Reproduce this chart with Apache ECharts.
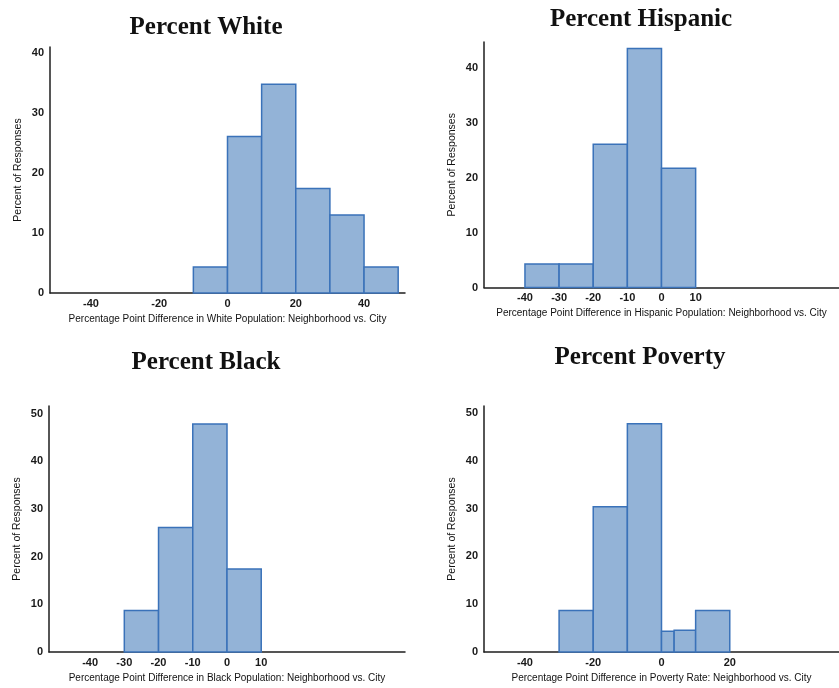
<!DOCTYPE html>
<html>
<head>
<meta charset="utf-8">
<script src="https://cdn.jsdelivr.net/npm/echarts@6/dist/echarts.min.js"></script>
<style>
html,body{margin:0;padding:0;background:#fff;}
#chart{width:839px;height:688px;}
</style>
</head>
<body>
<div id="chart"></div>
<script>
// ---- Data (bin edges and percent of responses per bin) ----
const whiteEdges = [-10, 0, 10, 20, 30, 40, 50];
const whitePct = [4.35, 26.1, 34.8, 17.4, 13.0, 4.35];

const hispanicEdges = [-40, -30, -20, -10, 0, 10];
const hispanicPct = [4.3, 4.3, 26.1, 43.5, 21.7];

const blackEdges = [-30, -20, -10, 0, 10];
const blackPct = [8.7, 26.1, 47.8, 17.4];

const povertyEdges = [-30, -20, -10, 0, 3.7, 10, 20];
const povertyPct = [8.7, 30.4, 47.8, 4.35, 4.55, 8.7];

// tick labels
const whiteXTicks = [-40, -20, 0, 20, 40];
const hispanicXTicks = [-40, -30, -20, -10, 0, 10];
const blackXTicks = [-40, -30, -20, -10, 0, 10];
const povertyXTicks = [-40, -20, 0, 20];
const yTicks40 = [0, 10, 20, 30, 40];
const yTicks50 = [0, 10, 20, 30, 40, 50];

const titles = ['Percent White', 'Percent Hispanic', 'Percent Black', 'Percent Poverty'];
const xNames = [
  'Percentage Point Difference in White Population: Neighborhood vs. City',
  'Percentage Point Difference in Hispanic Population: Neighborhood vs. City',
  'Percentage Point Difference in Black Population: Neighborhood vs. City',
  'Percentage Point Difference in Poverty Rate: Neighborhood vs. City'
];
const yName = 'Percent of Responses';

function toBins(edges, pct) {
  return pct.map((v, i) => [edges[i], edges[i + 1], v]);
}

const panels = [
  { bins: toBins(whiteEdges, whitePct), xt: whiteXTicks, yt: yTicks40, ymax: 41,
    grid: { left: 50, top: 47, width: 355, height: 246 }, title: [206, 28] },
  { bins: toBins(hispanicEdges, hispanicPct), xt: hispanicXTicks, yt: yTicks40, ymax: 44.7,
    grid: { left: 484, top: 42, width: 356, height: 245.5 }, title: [641, 20] },
  { bins: toBins(blackEdges, blackPct), xt: blackXTicks, yt: yTicks50, ymax: 51.6,
    grid: { left: 49, top: 406, width: 356, height: 246 }, title: [206, 363] },
  { bins: toBins(povertyEdges, povertyPct), xt: povertyXTicks, yt: yTicks50, ymax: 51.5,
    grid: { left: 484, top: 406, width: 356, height: 246 }, title: [640, 358] }
];

const FILL = '#93b3d7';
const STROKE = '#3a72b9';
const AXIS = '#1e1e1e';
const SANS = 'Liberation Sans, Arial, sans-serif';

const option = {
  animation: false,
  backgroundColor: '#ffffff',
  grid: panels.map(p => Object.assign({ containLabel: false }, p.grid)),
  xAxis: panels.map((p, i) => ({
    type: 'value', gridIndex: i, min: -52, max: 52,
    name: xNames[i], nameLocation: 'middle', nameGap: 21,
    nameTextStyle: { fontFamily: SANS, fontSize: 10, color: '#111' },
    axisLine: { show: true, onZero: false, lineStyle: { color: AXIS, width: 1.5 } },
    axisTick: { show: false },
    splitLine: { show: false },
    axisLabel: { customValues: p.xt, margin: 5, fontFamily: SANS, fontSize: 11, fontWeight: 'bold', color: '#1a1a1a' }
  })),
  yAxis: panels.map((p, i) => ({
    type: 'value', gridIndex: i, min: 0, max: p.ymax,
    name: yName, nameLocation: 'middle', nameGap: 26, nameRotate: 90,
    nameTextStyle: { fontFamily: SANS, fontSize: 10.5, color: '#111' },
    axisLine: { show: true, onZero: false, lineStyle: { color: AXIS, width: 1.5 } },
    axisTick: { show: false },
    splitLine: { show: false },
    axisLabel: { customValues: p.yt, margin: 6, fontFamily: SANS, fontSize: 11, fontWeight: 'bold', color: '#1a1a1a' }
  })),
  series: panels.map((p, i) => ({
    type: 'custom', xAxisIndex: i, yAxisIndex: i,
    data: p.bins,
    encode: { x: [0, 1], y: 2 },
    renderItem: function (params, api) {
      const a = api.coord([api.value(0), 0]);
      const b = api.coord([api.value(1), api.value(2)]);
      return {
        type: 'rect',
        shape: { x: a[0], y: b[1], width: b[0] - a[0], height: a[1] - b[1] },
        style: { fill: FILL, stroke: STROKE, lineWidth: 1.5 }
      };
    }
  })),
  graphic: panels.map((p, i) => ({
    type: 'text', x: p.title[0], y: p.title[1],
    style: {
      text: titles[i], align: 'center', verticalAlign: 'middle',
      font: 'bold 25px "Liberation Serif", "Times New Roman", serif', fill: '#111'
    }
  }))
};

const chart = echarts.init(document.getElementById('chart'), null, { renderer: 'canvas' });
chart.setOption(option);
</script>
</body>
</html>
